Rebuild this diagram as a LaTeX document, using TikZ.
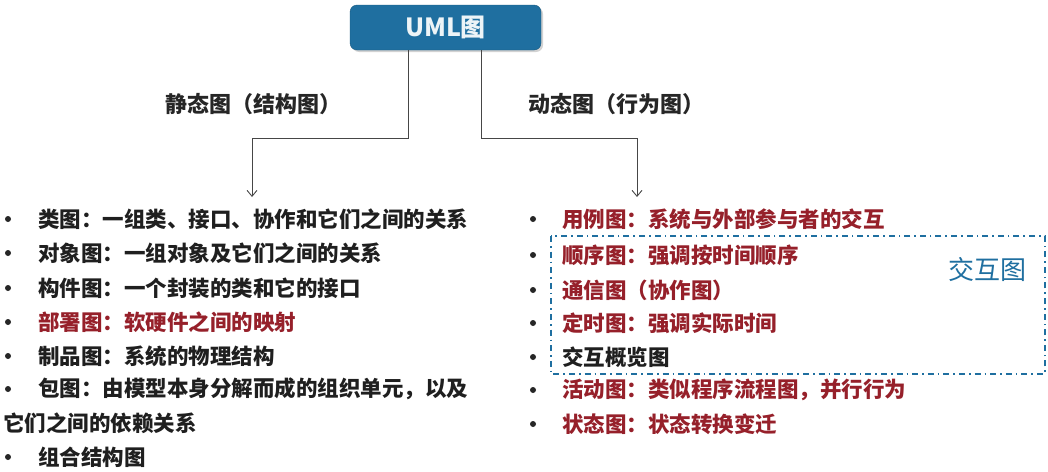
\documentclass[tikz,border=0pt]{standalone}
\usepackage{fontspec}
\newfontfamily\cjk{Noto Sans CJK SC}
\usetikzlibrary{arrows.meta,shadows}
\definecolor{umlblue}{RGB}{31,111,160}
\definecolor{umlred}{RGB}{150,32,42}
\definecolor{conncol}{RGB}{70,70,70}
\begin{document}
\begin{tikzpicture}[x=1pt,y=-1pt,
  title/.style={draw=umlblue!80!black,fill=umlblue,rounded corners=7pt,minimum width=191pt,minimum height=45pt,
    text=white!92!umlblue,font=\cjk\bfseries\fontsize{25}{28}\selectfont,drop shadow={shadow xshift=2pt,shadow yshift=-2pt,opacity=0.35}},
  conn/.style={draw=conncol,line width=0.9pt,-{Straight Barb[length=6pt,width=10pt]}},
  head/.style={anchor=west,inner sep=0pt,font=\cjk\bfseries\fontsize{22}{26}\selectfont,text=black!85},
  item/.style={anchor=west,inner sep=0pt,font=\cjk\bfseries\fontsize{21.5}{25}\selectfont,text=black!88},
  reditem/.style={item,text=umlred},
  bul/.style={circle,fill=black!85,inner sep=0pt,minimum size=6pt},
  ibox/.style={draw=umlblue,line width=1.6pt,dash pattern=on 6pt off 4pt on 1.6pt off 4pt}
]
\useasboundingbox (0,0) rectangle (1048,471);
\fill[white] (0,0) rectangle (1048,471);

\node[title] (uml) at (445.5,27.5) {UML图};

\node[head] (stat) at (165,104) {静态图（结构图）};
\node[head] (dyn) at (528,104) {动态图（行为图）};

\coordinate (lbend) at (408,138);
\coordinate (lend) at (252,197);
\coordinate (rbend) at (481,138);
\coordinate (rend) at (637,197);
\draw[conn] (uml.south -| lbend) -- (lbend) -| (lend);
\draw[conn] (uml.south -| rbend) -- (rbend) -| (rend);

% left list
\foreach \y/\n in {219/b1,253/b2,288/b3,322/b4,356/b5,389/b6,457/b7}
  \node[bul] (\n) at (8,\y) {};
\node[item] (l1) at (38,219) {类图：一组类、接口、协作和它们之间的关系};
\node[item] (l2) at (38,253) {对象图：一组对象及它们之间的关系};
\node[item] (l3) at (38,288) {构件图：一个封装的类和它的接口};
\node[reditem] (l4) at (38,322) {部署图：软硬件之间的映射};
\node[item] (l5) at (38,356) {制品图：系统的物理结构};
\node[item] (l6) at (38,389) {包图：由模型本身分解而成的组织单元，以及};
\node[item] (l6b) at (3,423) {它们之间的依赖关系};
\node[item] (l7) at (38,457) {组合结构图};

% right list
\foreach \y/\n in {219/c1,255/c2,290/c3,323/c4,357/c5,390/c6,424/c7}
  \node[bul] (\n) at (533,\y) {};
\node[reditem] (r1) at (562,219) {用例图：系统与外部参与者的交互};
\node[reditem] (r2) at (562,255) {顺序图：强调按时间顺序};
\node[reditem] (r3) at (562,290) {通信图（协作图）};
\node[reditem] (r4) at (562,323) {定时图：强调实际时间};
\node[item] (r5) at (562,357) {交互概览图};
\node[reditem] (r6) at (562,390) {活动图：类似程序流程图，并行行为};
\node[reditem] (r7) at (562,424) {状态图：状态转换变迁};

\draw[ibox] (551,236) rectangle (1045,374);
\node[item,text=umlblue,font=\cjk\fontsize{26}{30}\selectfont] (jh) at (948,270) {交互图};
\end{tikzpicture}
\end{document}
